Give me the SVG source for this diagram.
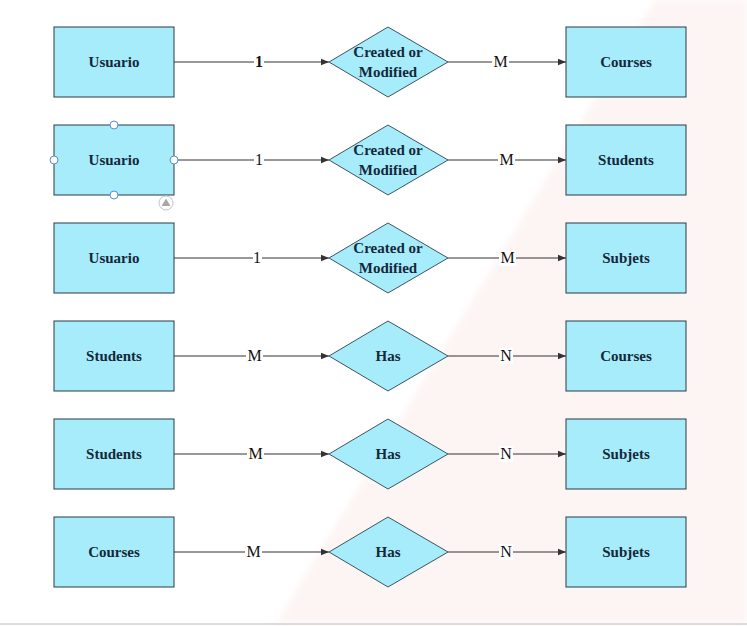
<svg xmlns="http://www.w3.org/2000/svg" width="747" height="626" viewBox="0 0 747 626">
  <defs>
    <marker id="arrow" viewBox="0 0 10 10" refX="10" refY="5" markerWidth="8" markerHeight="8" markerUnits="userSpaceOnUse" orient="auto">
      <path d="M0,1 L10,5 L0,9 Z" fill="#333"/>
    </marker>
    <filter id="soft" x="-10%" y="-10%" width="120%" height="120%">
      <feGaussianBlur stdDeviation="3"/>
    </filter>
  </defs>
  <style>
    .ent { fill: #a6ecfa; stroke: #2b3a44; stroke-width: 1; }
    .rel { fill: #a6ecfa; stroke: #3d5563; stroke-width: 1; }
    .name { font-family: "Liberation Serif", "Times New Roman", serif; font-weight: bold; font-size: 15px; fill: #14283a; text-anchor: middle; }
    .conn { stroke: #333; stroke-width: 1; fill: none; }
    .card { font-family: "Liberation Serif", "Times New Roman", serif; font-size: 16px; fill: #111; text-anchor: middle; }
    .cardbg { fill: #ffffff; }
    .handle { fill: #ffffff; stroke: #5b8ed6; stroke-width: 1; }
  </style>

  <!-- page background with tinted diagonal band -->
  <rect x="0" y="0" width="747" height="626" fill="#ffffff"/>
  <polygon points="655,0 747,0 747,623 276,623" fill="#fdf5f4" filter="url(#soft)"/>
  <line x1="0" y1="624" x2="747" y2="624" stroke="#dcdcdc" stroke-width="2"/>

  <!-- connectors -->
  <g id="connectors">
    <line class="conn" x1="174" y1="62" x2="329" y2="62" marker-end="url(#arrow)"/>
    <line class="conn" x1="448" y1="62" x2="566" y2="62" marker-end="url(#arrow)"/>
    <line class="conn" x1="174" y1="160" x2="329" y2="160" marker-end="url(#arrow)"/>
    <line class="conn" x1="448" y1="160" x2="566" y2="160" marker-end="url(#arrow)"/>
    <line class="conn" x1="174" y1="258" x2="329" y2="258" marker-end="url(#arrow)"/>
    <line class="conn" x1="448" y1="258" x2="566" y2="258" marker-end="url(#arrow)"/>
    <line class="conn" x1="174" y1="356" x2="329" y2="356" marker-end="url(#arrow)"/>
    <line class="conn" x1="448" y1="356" x2="566" y2="356" marker-end="url(#arrow)"/>
    <line class="conn" x1="174" y1="454" x2="329" y2="454" marker-end="url(#arrow)"/>
    <line class="conn" x1="448" y1="454" x2="566" y2="454" marker-end="url(#arrow)"/>
    <line class="conn" x1="174" y1="552" x2="329" y2="552" marker-end="url(#arrow)"/>
    <line class="conn" x1="448" y1="552" x2="566" y2="552" marker-end="url(#arrow)"/>

    <!-- cardinality labels -->
    <rect class="cardbg" x="254" y="54" width="10" height="16"/>
    <text class="card" x="259" y="67" font-weight="bold">1</text>
    <rect class="cardbg" x="492" y="54" width="17" height="16"/>
    <text class="card" x="500.5" y="67">M</text>

    <rect class="cardbg" x="254" y="152" width="10" height="16"/>
    <text class="card" x="259" y="165">1</text>
    <rect class="cardbg" x="498" y="152" width="17" height="16"/>
    <text class="card" x="506.5" y="165">M</text>

    <rect class="cardbg" x="253" y="250" width="9" height="16"/>
    <text class="card" x="257" y="263" font-size="15">1</text>
    <rect class="cardbg" x="499" y="250" width="17" height="16"/>
    <text class="card" x="507.5" y="263">M</text>

    <rect class="cardbg" x="246" y="348" width="17" height="16"/>
    <text class="card" x="254.5" y="361">M</text>
    <rect class="cardbg" x="499" y="348" width="14" height="16"/>
    <text class="card" x="506" y="361">N</text>

    <rect class="cardbg" x="247" y="446" width="17" height="16"/>
    <text class="card" x="255.5" y="459">M</text>
    <rect class="cardbg" x="499" y="446" width="14" height="16"/>
    <text class="card" x="506" y="459">N</text>

    <rect class="cardbg" x="245" y="544" width="17" height="16"/>
    <text class="card" x="253.5" y="557">M</text>
    <rect class="cardbg" x="499" y="544" width="14" height="16"/>
    <text class="card" x="506" y="557">N</text>
  </g>

  <!-- row 1 -->
  <g id="usuario-1">
    <rect class="ent" x="54" y="27" width="120" height="70"/>
    <text class="name" x="114" y="67">Usuario</text>
  </g>
  <g id="created-1">
    <polygon class="rel" points="388,27 448,62 388,97 329,62"/>
    <text class="name" x="388" y="57">Created or</text>
    <text class="name" x="388" y="77">Modified</text>
  </g>
  <g id="courses-1">
    <rect class="ent" x="566" y="27" width="120" height="70"/>
    <text class="name" x="626" y="67">Courses</text>
  </g>

  <!-- row 2 -->
  <g id="usuario-2">
    <rect class="ent" x="54" y="125" width="120" height="70"/>
    <text class="name" x="114" y="165">Usuario</text>
    <circle class="handle" cx="114" cy="125" r="4"/>
    <circle class="handle" cx="54" cy="160" r="4"/>
    <circle class="handle" cx="174" cy="160" r="4"/>
    <circle class="handle" cx="114" cy="195" r="4"/>
    <circle cx="166" cy="203" r="7" fill="#ffffff" stroke="#c4c4c4" stroke-width="1"/>
    <polygon points="166,198.5 170.5,206 161.5,206" fill="#a8a8a8"/>
  </g>
  <g id="created-2">
    <polygon class="rel" points="388,125 448,160 388,195 329,160"/>
    <text class="name" x="388" y="155">Created or</text>
    <text class="name" x="388" y="175">Modified</text>
  </g>
  <g id="students-1">
    <rect class="ent" x="566" y="125" width="120" height="70"/>
    <text class="name" x="626" y="165">Students</text>
  </g>

  <!-- row 3 -->
  <g id="usuario-3">
    <rect class="ent" x="54" y="223" width="120" height="70"/>
    <text class="name" x="114" y="263">Usuario</text>
  </g>
  <g id="created-3">
    <polygon class="rel" points="388,223 448,258 388,293 329,258"/>
    <text class="name" x="388" y="253">Created or</text>
    <text class="name" x="388" y="273">Modified</text>
  </g>
  <g id="subjets-1">
    <rect class="ent" x="566" y="223" width="120" height="70"/>
    <text class="name" x="626" y="263">Subjets</text>
  </g>

  <!-- row 4 -->
  <g id="students-2">
    <rect class="ent" x="54" y="321" width="120" height="70"/>
    <text class="name" x="114" y="361">Students</text>
  </g>
  <g id="has-1">
    <polygon class="rel" points="388,321 448,356 388,391 329,356"/>
    <text class="name" x="388" y="361">Has</text>
  </g>
  <g id="courses-2">
    <rect class="ent" x="566" y="321" width="120" height="70"/>
    <text class="name" x="626" y="361">Courses</text>
  </g>

  <!-- row 5 -->
  <g id="students-3">
    <rect class="ent" x="54" y="419" width="120" height="70"/>
    <text class="name" x="114" y="459">Students</text>
  </g>
  <g id="has-2">
    <polygon class="rel" points="388,419 448,454 388,489 329,454"/>
    <text class="name" x="388" y="459">Has</text>
  </g>
  <g id="subjets-2">
    <rect class="ent" x="566" y="419" width="120" height="70"/>
    <text class="name" x="626" y="459">Subjets</text>
  </g>

  <!-- row 6 -->
  <g id="courses-3">
    <rect class="ent" x="54" y="517" width="120" height="70"/>
    <text class="name" x="114" y="557">Courses</text>
  </g>
  <g id="has-3">
    <polygon class="rel" points="388,517 448,552 388,587 329,552"/>
    <text class="name" x="388" y="557">Has</text>
  </g>
  <g id="subjets-3">
    <rect class="ent" x="566" y="517" width="120" height="70"/>
    <text class="name" x="626" y="557">Subjets</text>
  </g>
</svg>
